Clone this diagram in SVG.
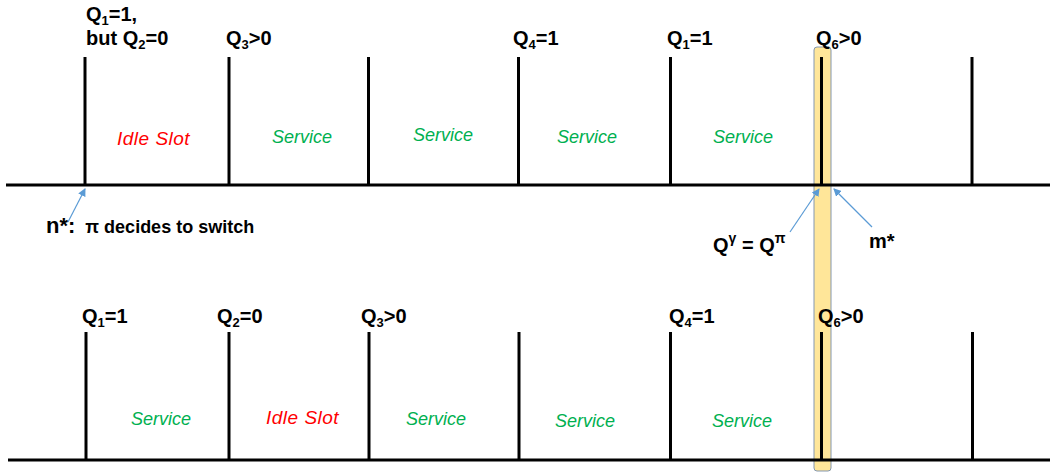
<svg xmlns="http://www.w3.org/2000/svg" width="1050" height="472" viewBox="0 0 1050 472">
<style>
.ln{stroke:#000;stroke-width:3;fill:none}
.lbl{font-family:"Liberation Sans",Arial,sans-serif;font-weight:bold;font-size:20px;fill:#000}
.sub{font-size:13px}
.svc{font-family:"Liberation Sans",Arial,sans-serif;font-style:italic;font-size:18px;fill:#00B050}
.idle{font-family:"Liberation Sans",Arial,sans-serif;font-style:italic;font-size:19px;letter-spacing:0.5px;fill:#FF0000}
.arr{stroke:#5B9BD5;stroke-width:1.2;fill:none;marker-end:url(#ah)}
</style>
<defs>
<marker id="ah" markerWidth="8" markerHeight="8" refX="7" refY="4" orient="auto" markerUnits="userSpaceOnUse">
<path d="M0,0 L8,4 L0,8 Z" fill="#5B9BD5"/>
</marker>
</defs>
<rect x="0" y="0" width="1050" height="472" fill="#fff"/>
<g id="highlight">
<rect x="814" y="47" width="17" height="424" rx="3" fill="#FFE699" stroke="#8497B0" stroke-width="1"/>
</g>
<g id="top-timeline">
<line class="ln" x1="6" y1="185" x2="1050" y2="185"/>
<line class="ln" x1="85" y1="57" x2="85" y2="185"/>
<line class="ln" x1="229" y1="57" x2="229" y2="185"/>
<line class="ln" x1="368.5" y1="57" x2="368.5" y2="185"/>
<line class="ln" x1="518.5" y1="57" x2="518.5" y2="185"/>
<line class="ln" x1="670.5" y1="57" x2="670.5" y2="185"/>
<line class="ln" x1="821.5" y1="57" x2="821.5" y2="185"/>
<line class="ln" x1="972" y1="57" x2="972" y2="185"/>
</g>
<g id="bottom-timeline">
<line class="ln" x1="8" y1="460" x2="1050" y2="460"/>
<line class="ln" x1="86" y1="332" x2="86" y2="460"/>
<line class="ln" x1="229" y1="332" x2="229" y2="460"/>
<line class="ln" x1="369" y1="332" x2="369" y2="460"/>
<line class="ln" x1="519" y1="332" x2="519" y2="460"/>
<line class="ln" x1="670.5" y1="332" x2="670.5" y2="460"/>
<line class="ln" x1="821.5" y1="332" x2="821.5" y2="460"/>
<line class="ln" x1="972.5" y1="332" x2="972.5" y2="460"/>
</g>
<g id="top-labels">
<text class="lbl" x="86" y="21">Q<tspan class="sub" dy="4">1</tspan><tspan dy="-4">=1,</tspan></text>
<text class="lbl" x="86" y="45">but Q<tspan class="sub" dy="4">2</tspan><tspan dy="-4">=0</tspan></text>
<text class="lbl" x="226" y="45">Q<tspan class="sub" dy="4">3</tspan><tspan dy="-4">&gt;0</tspan></text>
<text class="lbl" x="513" y="45">Q<tspan class="sub" dy="4">4</tspan><tspan dy="-4">=1</tspan></text>
<text class="lbl" x="667" y="45">Q<tspan class="sub" dy="4">1</tspan><tspan dy="-4">=1</tspan></text>
<text class="lbl" x="816" y="45">Q<tspan class="sub" dy="4">6</tspan><tspan dy="-4">&gt;0</tspan></text>
</g>
<g id="top-slots">
<text class="idle" x="117" y="145">Idle Slot</text>
<text class="svc" x="302" y="143" text-anchor="middle">Service</text>
<text class="svc" x="443" y="141" text-anchor="middle">Service</text>
<text class="svc" x="587" y="143" text-anchor="middle">Service</text>
<text class="svc" x="743" y="143" text-anchor="middle">Service</text>
</g>
<g id="bottom-labels">
<text class="lbl" x="82" y="323">Q<tspan class="sub" dy="4">1</tspan><tspan dy="-4">=1</tspan></text>
<text class="lbl" x="217" y="323">Q<tspan class="sub" dy="4">2</tspan><tspan dy="-4">=0</tspan></text>
<text class="lbl" x="361" y="323">Q<tspan class="sub" dy="4">3</tspan><tspan dy="-4">&gt;0</tspan></text>
<text class="lbl" x="669" y="323">Q<tspan class="sub" dy="4">4</tspan><tspan dy="-4">=1</tspan></text>
<text class="lbl" x="818" y="323">Q<tspan class="sub" dy="4">6</tspan><tspan dy="-4">&gt;0</tspan></text>
</g>
<g id="bottom-slots">
<text class="svc" x="161" y="425" text-anchor="middle">Service</text>
<text class="idle" x="266" y="424">Idle Slot</text>
<text class="svc" x="436" y="425" text-anchor="middle">Service</text>
<text class="svc" x="585" y="427" text-anchor="middle">Service</text>
<text class="svc" x="742" y="427" text-anchor="middle">Service</text>
</g>
<g id="annotations">
<text class="lbl" x="46" y="233"><tspan font-size="22">n*:</tspan><tspan font-size="18" dx="10">π decides to switch</tspan></text>
<text class="lbl" x="713" y="252" font-size="23">Q<tspan font-size="14" dy="-9">γ</tspan><tspan dy="9"> = Q</tspan><tspan font-size="14" dy="-9">π</tspan></text>
<text class="lbl" x="869" y="248" font-size="24">m*</text>
</g>
<g id="connectors">
<line class="arr" x1="68" y1="222" x2="85" y2="189"/>
<line class="arr" x1="790" y1="232" x2="819" y2="189"/>
<line class="arr" x1="872" y1="227" x2="834" y2="189"/>
</g>
</svg>
